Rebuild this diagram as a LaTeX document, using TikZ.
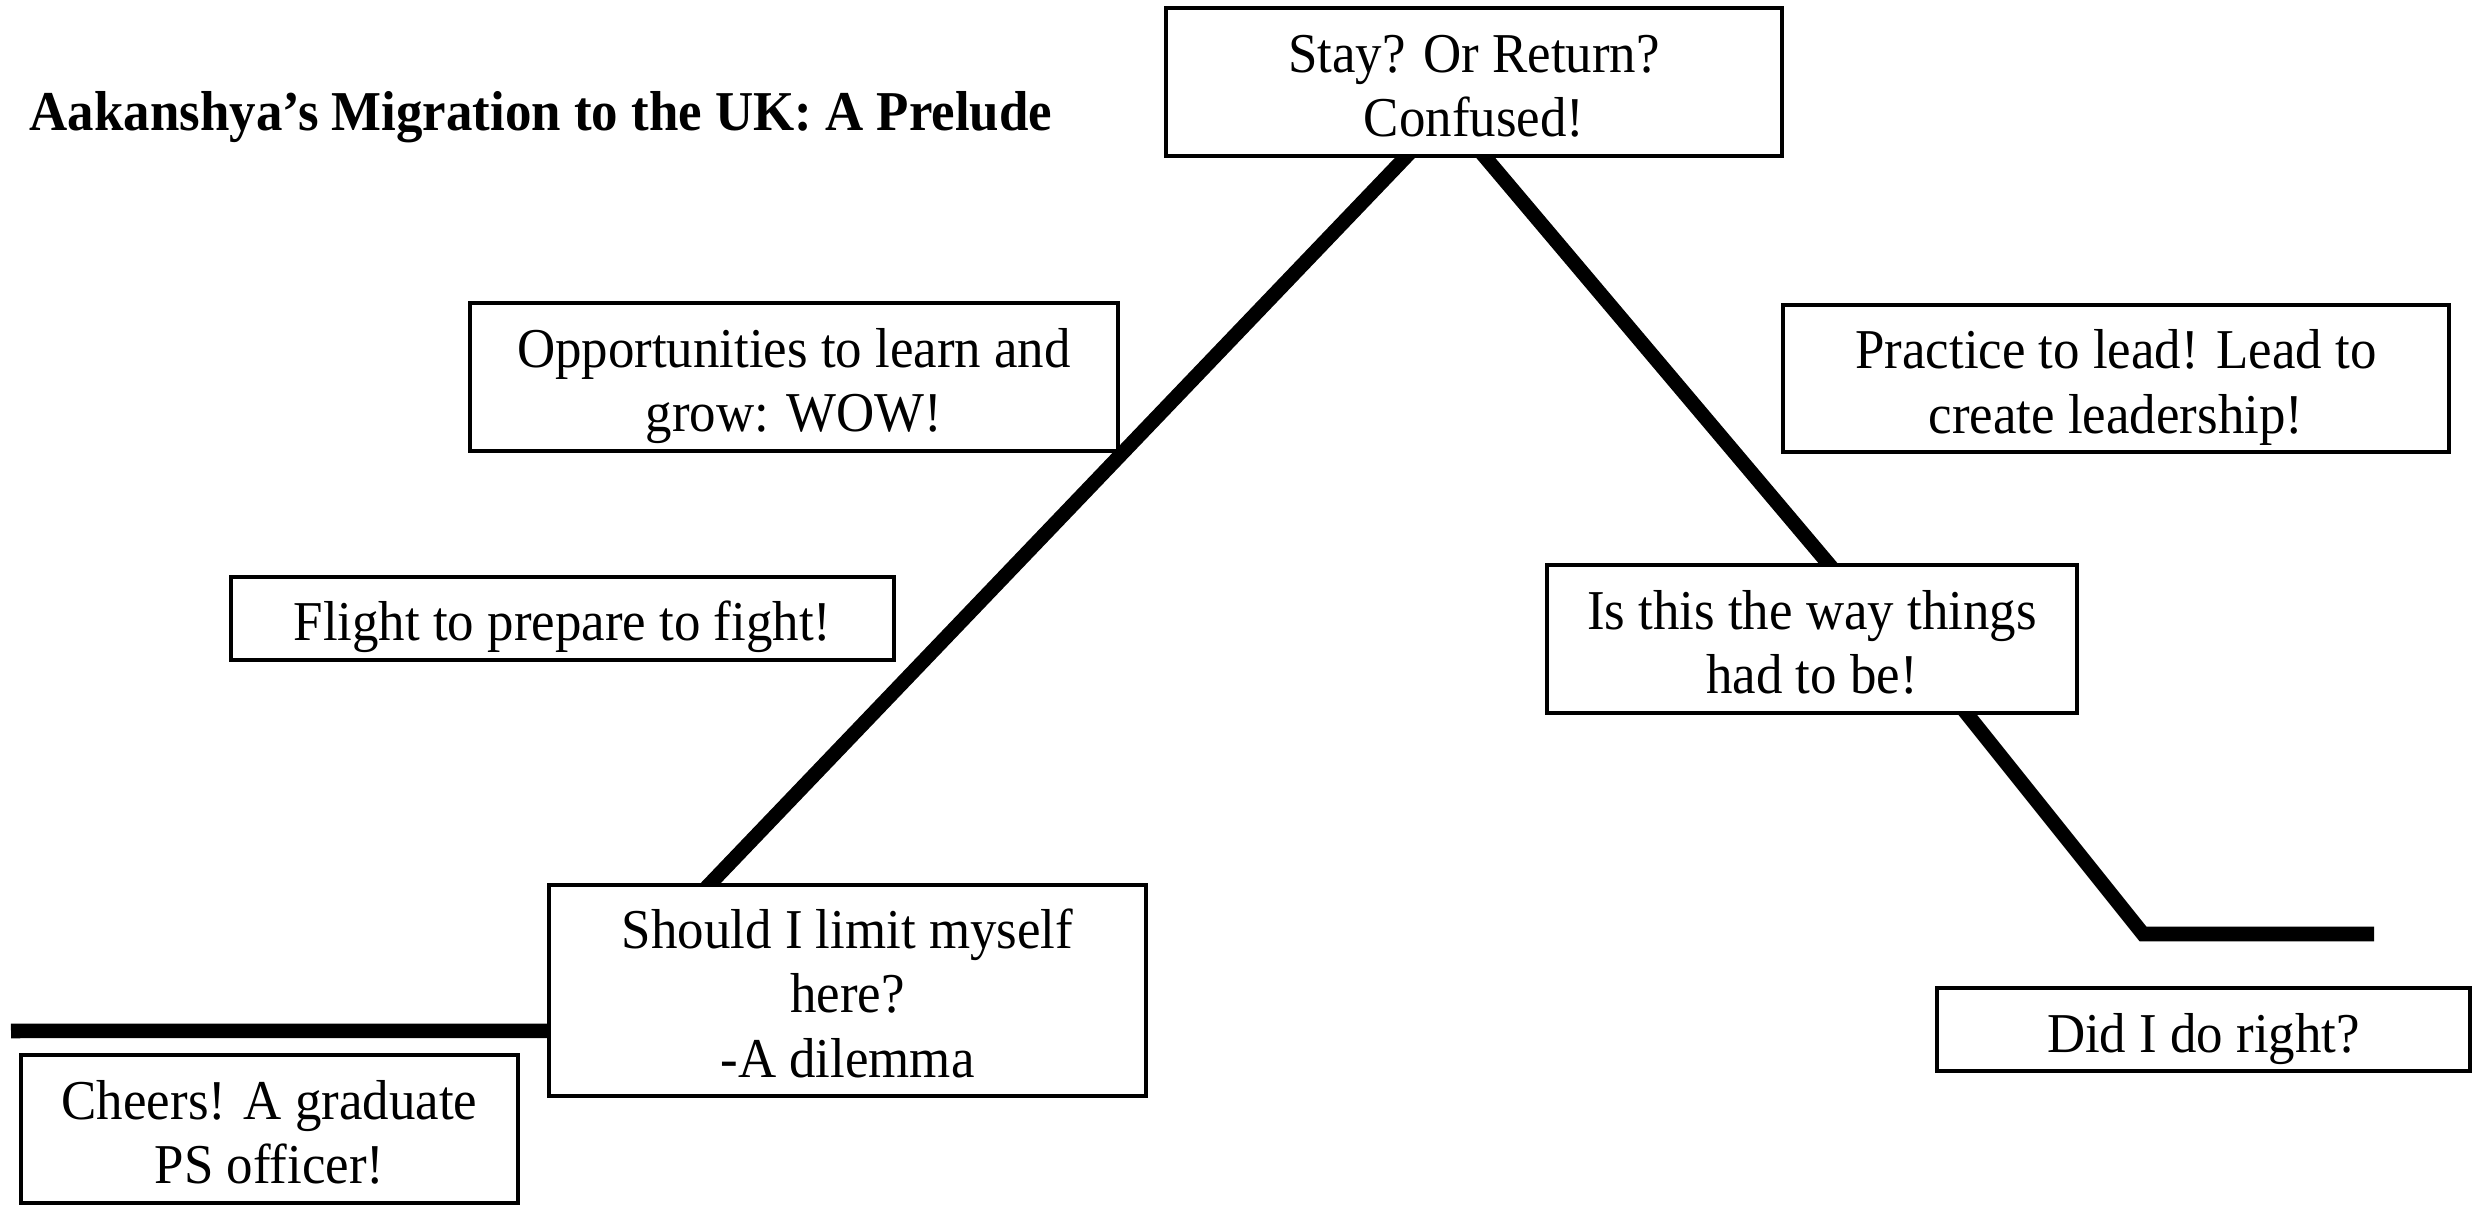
\documentclass[tikz,border=0pt]{standalone}
\usepackage{fontspec}
\setmainfont{Liberation Serif}[FakeStretch=0.94]
\usetikzlibrary{calc,backgrounds}
\newcommand\tp{\rule{0pt}{16.3pt}}
\newcommand\bt{\rule[-3.5pt]{0pt}{3.5pt}}
\begin{document}
\begin{tikzpicture}[x=0.01cm,y=-0.01cm,
  box/.style={draw=black, fill=white, line width=0.045cm, inner sep=0pt,
    align=center, font=\fontsize{16}{18.4}\selectfont},
  track/.style={line width=0.145cm, line join=miter, line cap=butt}]
\path[use as bounding box] (0,0) rectangle (2484,1210);

\node[anchor=base west, inner sep=0pt, font=\fontsize{16}{18}\selectfont\bfseries] (title) at (29,131) {Aakanshya’s Migration to the UK: A Prelude};

\node[box, minimum width=6.155cm, minimum height=1.475cm] (stay) at (1474,82) {\tp Stay? Or Return?\\Confused!\bt};
\node[box, minimum width=6.475cm, minimum height=1.475cm] (opp) at (794,377) {\tp Opportunities to learn and\\grow: WOW!\bt};
\node[box, minimum width=6.625cm, minimum height=0.825cm] (flight) at (562.5,618.5) {\tp Flight to prepare to fight!\bt};
\node[box, minimum width=5.965cm, minimum height=2.105cm] (should) at (847.5,990.5) {\tp Should I limit myself\\here?\\-A dilemma\bt};
\node[box, minimum width=4.965cm, minimum height=1.475cm] (cheers) at (269.5,1129) {\tp Cheers! A graduate\\PS officer!\bt};
\node[box, minimum width=6.655cm, minimum height=1.465cm] (practice) at (2116,378.5) {\tp Practice to lead! Lead to\\create leadership!\bt};
\node[box, minimum width=5.295cm, minimum height=1.475cm] (isthis) at (1812,639) {\tp Is this the way things\\had to be!\bt};
\node[box, minimum width=5.325cm, minimum height=0.825cm] (did) at (2203.5,1029.5) {\tp Did I do right?\bt};

\coordinate (start) at (11,1031);
\coordinate (corner) at (2143,934);
\coordinate (finish) at (2374,934);

\begin{pgfonlayer}{background}
\draw[track] (start) -- ($(should.north west)+(10,148)$);
\draw[track] ($(should.north west)+(154.5,10)$) -- ($(stay.south west)+(250.5,-10)$);
\draw[track] ($(stay.south west)+(313.6,-10)$) -- ($(isthis.north west)+(291.4,10)$);
\draw[track] ($(isthis.south west)+(415,-10)$) -- (corner) -- (finish);
\end{pgfonlayer}
\end{tikzpicture}
\end{document}
